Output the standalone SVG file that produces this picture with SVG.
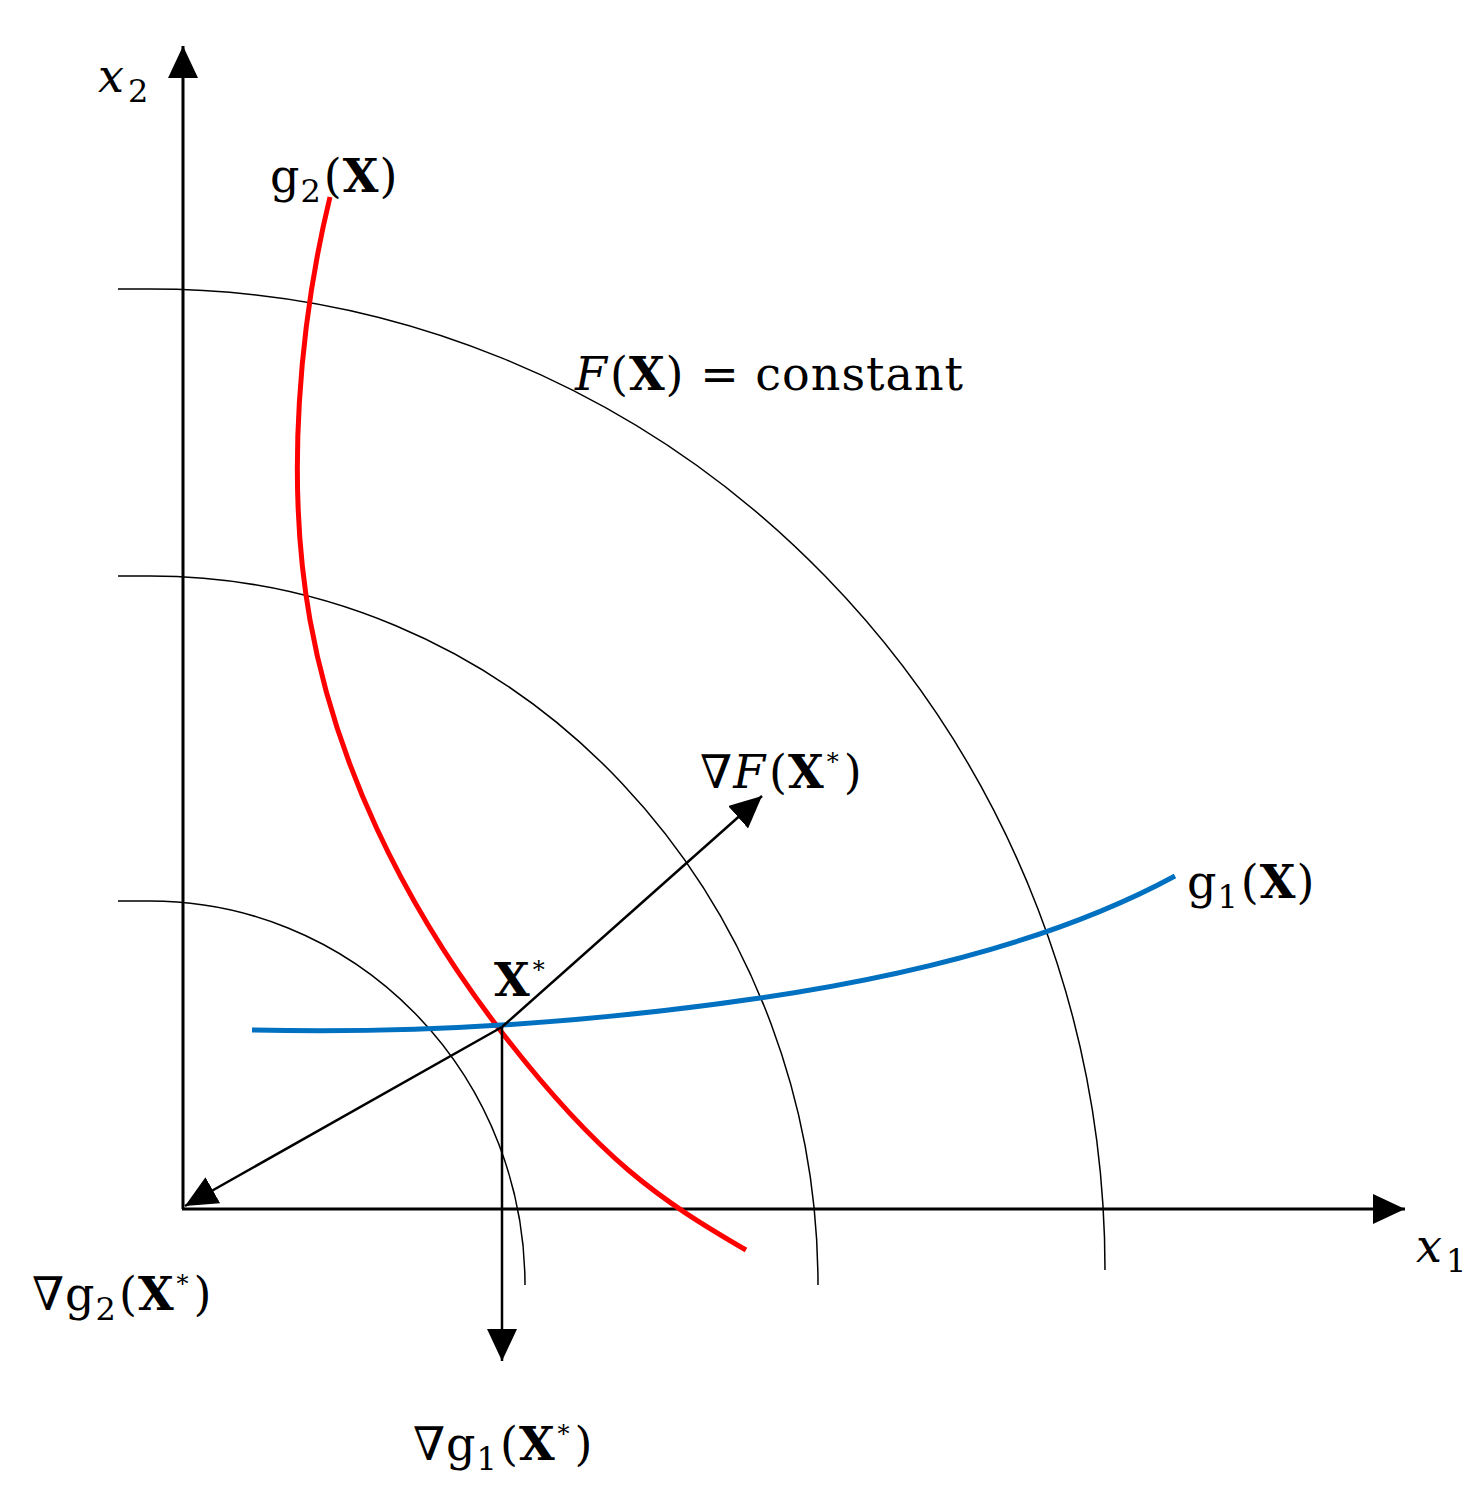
<svg xmlns="http://www.w3.org/2000/svg" width="1484" height="1506" viewBox="0 0 1484 1506">
<style>
.ax{stroke:#000;stroke-width:3;fill:none}
.arc{stroke:#000;stroke-width:1.5;fill:none}
.vec{stroke:#000;stroke-width:2.5;fill:none}
.lbl{font-family:"DejaVu Serif","Liberation Serif",serif;font-size:46px;letter-spacing:1px;fill:#000}
.it{font-style:italic}
.b{font-weight:bold}
.sub{font-size:32px}
.sup{font-size:24px}
</style>
<defs>
<marker id="ah" markerUnits="userSpaceOnUse" markerWidth="34" markerHeight="30" refX="32" refY="15" orient="auto">
<path d="M0,0 L32,15 L0,30 Z" fill="#000"/>
</marker>
</defs>
<rect width="1484" height="1506" fill="#fff"/>
<g id="axes">
<line class="ax" x1="183" y1="1209" x2="183" y2="46" marker-end="url(#ah)"/>
<line class="ax" x1="182" y1="1209" x2="1405" y2="1209" marker-end="url(#ah)"/>
</g>
<g id="level-curves">
<path class="arc" d="M118,289 L150,289 A955,981 0 0 1 1105,1270"/>
<path class="arc" d="M118,576 L150,576 A668,709 0 0 1 818,1285"/>
<path class="arc" d="M118,901 L150,901 A375,384 0 0 1 525,1285"/>
</g>
<g id="g2-curve">
<path d="M330,197 C300,320 285,480 310,620 S400,900 500,1030 S660,1200 746,1250" stroke="#ff0000" stroke-width="5" fill="none"/>
</g>
<g id="g1-curve">
<path d="M252,1030 Q500,1036 760,998 T1175,876" stroke="#0070c0" stroke-width="5" fill="none"/>
</g>
<g id="connectors">
<line class="vec" x1="502" y1="1027" x2="762" y2="796" marker-end="url(#ah)"/>
<line class="vec" x1="502" y1="1027" x2="185" y2="1206" marker-end="url(#ah)"/>
<line class="vec" x1="502" y1="1027" x2="502" y2="1361" marker-end="url(#ah)"/>
</g>
<g id="labels">
<text class="lbl" x="98" y="92"><tspan class="it">x</tspan><tspan class="sub" dx="3" dy="10">2</tspan></text>
<text class="lbl" x="1416" y="1262"><tspan class="it">x</tspan><tspan class="sub" dx="3" dy="10">1</tspan></text>
<text class="lbl" x="270" y="192">g<tspan class="sub" dy="10">2</tspan><tspan dx="2" dy="-10">(</tspan><tspan class="b">X</tspan>)</text>
<text class="lbl" x="575" y="390"><tspan class="it">F</tspan><tspan dx="2">(</tspan><tspan class="b">X</tspan>) = constant</text>
<text class="lbl" x="700" y="788">∇<tspan class="it">F</tspan><tspan dx="3">(</tspan><tspan class="b">X</tspan><tspan class="sup" dx="2" dy="-18">*</tspan><tspan dx="4" dy="18">)</tspan></text>
<text class="lbl" x="1187" y="898">g<tspan class="sub" dy="10">1</tspan><tspan dx="2" dy="-10">(</tspan><tspan class="b">X</tspan>)</text>
<text class="lbl" x="494" y="996"><tspan class="b">X</tspan><tspan class="sup" dx="2" dy="-18">*</tspan></text>
<text class="lbl" x="32" y="1310">∇g<tspan class="sub" dy="10">2</tspan><tspan dx="2" dy="-10">(</tspan><tspan class="b">X</tspan><tspan class="sup" dx="2" dy="-18">*</tspan><tspan dx="4" dy="18">)</tspan></text>
<text class="lbl" x="413" y="1460">∇g<tspan class="sub" dy="10">1</tspan><tspan dx="2" dy="-10">(</tspan><tspan class="b">X</tspan><tspan class="sup" dx="2" dy="-18">*</tspan><tspan dx="4" dy="18">)</tspan></text>
</g>
</svg>
